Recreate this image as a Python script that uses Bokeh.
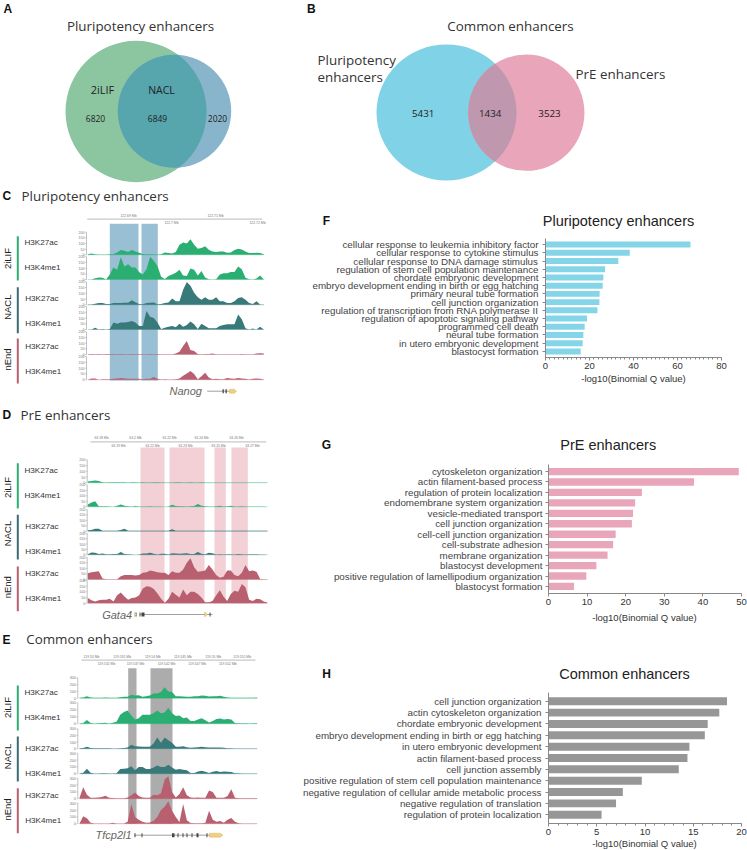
import numpy as np
from bokeh.plotting import figure
from bokeh.layouts import row, column
from bokeh.models import Range1d, FactorRange, FixedTicker
from bokeh.core.properties import value
from bokeh.embed import file_html
from bokeh.resources import INLINE

# ---------- data ----------
F_terms = ["cellular response to leukemia inhibitory factor","cellular response to cytokine stimulus","cellular response to DNA damage stimulus","regulation of stem cell population maintenance","chordate embryonic development","embryo development ending in birth or egg hatching","primary neural tube formation","cell junction organization","regulation of transcription from RNA polymerase II","regulation of apoptotic signaling pathway","programmed cell death","neural tube formation","in utero embryonic development","blastocyst formation"]
F_vals = [65.9,38.3,33.1,27.1,26.3,26.0,24.6,24.5,23.6,18.9,17.8,17.2,16.9,16.0]
G_terms = ["cytoskeleton organization","actin filament-based process","regulation of protein localization","endomembrane system organization","vesicle-mediated transport","cell junction organization","cell-cell junction organization","cell-substrate adhesion","membrane organization","blastocyst development","positive regulation of lamellipodium organization","blastocyst formation"]
G_vals = [49.3,37.7,24.2,22.45,21.9,21.6,17.4,16.75,15.3,12.4,9.8,6.6]
H_terms = ["cell junction organization","actin cytoskeleton organization","chordate embryonic development","embryo development ending in birth or egg hatching","in utero embryonic development","actin filament-based process","cell junction assembly","positive regulation of stem cell population maintenance","negative regulation of cellular amide metabolic process","negative regulation of translation","regulation of protein localization"]
H_vals = [18.5,17.7,16.5,16.2,14.6,14.4,13.5,9.67,7.7,7.0,5.5]

venn_A = ["6820","6849","2020"]
venn_B = ["5431","1434","3523"]
marks = ["H3K27ac","H3K4me1"]
states = ["2iLIF","NACL","nEnd"]

C_2iLIF_K27ac = [5,12,5,3,3,3,5,8,20,42,36,24,42,30,18,8,5,5,5,3,5,20,15,12,25,90,108,100,138,90,54,60,75,45,30,25,30,30,18,20,42,54,48,30,15,15,18,15,5]
C_2iLIF_K4me1 = [0,0,12,18,15,0,45,105,85,195,115,135,105,105,66,45,90,200,165,120,25,5,30,45,60,85,36,30,96,85,36,75,18,3,0,3,45,54,54,66,66,114,90,15,3,0,8,36,0]
C_NACL_K27ac = [3,3,10,15,15,8,8,15,15,15,18,18,40,22,8,5,15,18,20,5,8,15,20,55,30,30,130,198,165,105,66,45,66,45,45,66,30,30,15,15,30,60,66,45,15,8,30,3,3]
C_NACL_K4me1 = [0,0,15,0,5,0,5,60,50,60,60,66,75,60,30,30,160,110,100,60,5,15,25,30,20,50,25,40,70,45,5,50,30,10,10,10,30,40,45,45,45,130,90,10,0,8,0,25,0]
C_nEnd_K27ac = [3,5,3,5,3,5,5,5,3,5,3,3,5,3,5,3,3,5,3,5,3,3,3,3,8,25,75,120,40,30,5,3,5,5,8,3,3,3,3,3,3,3,5,3,3,3,8,10,8]
C_nEnd_K4me1 = [0,12,12,0,5,5,5,10,12,15,12,10,10,10,8,5,8,10,25,8,3,5,3,3,5,12,35,55,75,50,5,30,60,20,5,8,5,5,15,12,10,15,12,10,3,10,12,8,3]

D_2iLIF_K27ac = [12,15,20,15,4,3,4,4,4,5,4,3,5,4,3,4,3,3,4,4,3,3,3,3,5,4,3,3,4,3,3,4,3,3,3,3,3,3,3,3,3,3,3,3,3,3,3,3,3,3]
D_2iLIF_K4me1 = [20,40,50,5,5,5,3,0,10,22,10,5,3,8,3,3,3,5,3,3,3,0,3,18,8,5,5,3,5,8,25,10,5,3,3,5,10,3,5,10,3,3,5,3,3,3,3,3,3,0]
D_NACL_K27ac = [8,10,22,22,5,3,3,5,5,10,22,5,3,3,3,3,5,5,5,3,3,3,3,18,5,3,3,3,3,3,5,3,3,3,3,5,3,3,3,3,3,3,3,3,3,3,3,3,3,3]
D_NACL_K4me1 = [5,22,20,8,12,5,5,8,8,25,8,5,3,0,3,12,12,18,10,3,10,10,3,15,12,10,12,15,8,8,25,10,5,18,15,3,5,3,5,5,3,8,5,3,5,5,5,3,3,0]
D_nEnd_K27ac = [55,65,70,75,8,3,3,3,3,30,40,40,40,35,40,60,65,80,75,65,60,60,40,75,60,60,90,150,190,110,70,75,80,130,90,40,15,25,80,80,40,30,60,130,75,80,70,5,3,3]
D_nEnd_K4me1 = [45,25,15,25,30,30,40,15,70,95,60,30,45,50,70,130,150,145,125,85,40,5,40,100,75,50,120,70,100,100,80,50,8,8,20,70,115,60,20,80,110,100,170,140,30,20,40,35,15,5]

E_2iLIF_K27ac = [8,12,30,10,8,8,8,12,8,5,5,15,20,20,50,40,45,20,30,40,70,70,90,160,100,90,30,30,25,20,20,30,30,40,35,25,30,30,35,20,10,8,5,8,8,5,8,8,10]
E_2iLIF_K4me1 = [3,10,55,10,3,8,10,15,5,15,30,130,170,190,120,60,80,130,130,130,150,190,150,160,230,150,110,120,80,90,40,40,60,80,50,20,40,70,75,60,70,60,10,8,8,8,5,8,8]
E_NACL_K27ac = [8,12,30,12,8,8,8,8,8,5,5,10,12,20,60,40,35,30,30,30,80,170,90,170,130,90,30,30,40,25,15,20,25,30,25,20,20,20,20,15,10,8,5,5,5,5,5,3,3]
E_NACL_K4me1 = [5,15,75,15,3,5,8,8,5,5,8,70,75,80,110,50,100,100,70,70,90,120,100,100,130,90,60,70,60,50,10,10,35,45,30,10,30,40,25,35,30,25,8,8,5,5,5,3,3]
E_nEnd_K27ac = [15,170,60,15,15,20,25,45,15,10,8,8,8,20,50,90,40,20,15,15,60,50,80,280,330,100,20,70,170,50,20,15,20,15,15,120,100,15,15,15,40,140,15,8,8,8,8,8,8]
E_nEnd_K4me1 = [5,110,80,15,5,5,5,5,5,15,3,3,3,30,290,100,60,30,15,20,40,100,200,250,330,190,100,25,290,50,10,8,8,8,15,190,60,30,40,15,60,85,30,8,5,5,5,3,3]

C_scale_top = ["122.69 Mb","122.71 Mb"]
C_scale_bot = ["122.7 Mb","122.72 Mb"]
D_scale_top = ["63.18 Mb","63.2 Mb","63.22 Mb","63.24 Mb","63.26 Mb"]
D_scale_bot = ["63.19 Mb","63.21 Mb","63.23 Mb","63.25 Mb","63.27 Mb"]
E_scale_top = ["119.53 Mb","119.535 Mb","119.54 Mb","119.545 Mb","119.55 Mb","119.555 Mb"]
E_scale_bot = ["119.532 Mb","119.537 Mb","119.542 Mb","119.547 Mb","119.552 Mb"]

# ---------- style ----------
GREEN, TEAL, PINK = "#2BAE72", "#38797A", "#B8606F"
TCOL = "#3C3C3C"
VENN = "Open Sans"
SANS = "Liberation Sans"
TS = 13.4
Y_TOP, Y_BOT = 0, 850

def canvas(x0, x1, y0, y1):
    p = figure(width=x1 - x0, height=y1 - y0, x_range=Range1d(x0, x1), y_range=Range1d(y1, y0),
               output_backend="svg", toolbar_location=None, min_border=0, outline_line_color=None, frame_align=False)
    p.axis.visible = False
    p.grid.visible = False
    return p

def txt(p, x, y, s, size, font=SANS, color=TCOL, align="left", style="normal", angle=0):
    p.text(x=[x], y=[y], text=[s], text_font=value(font), text_font_size=f"{size}px", text_color=color,
           text_align=align, text_baseline="middle", text_font_style=style, angle=angle)

def venn(p, a, b, col_a, col_b, col_ab):
    """Two solid ellipses (cx, cy, w, h) and their common lens, in exact colours."""
    p.ellipse(x=[a[0]], y=[a[1]], width=[a[2]], height=[a[3]], fill_color=col_a, line_color=None)
    p.ellipse(x=[b[0]], y=[b[1]], width=[b[2]], height=[b[3]], fill_color=col_b, line_color=None)
    t = np.linspace(0, 2 * np.pi, 1440, endpoint=False)
    def ring(e):
        return e[0] + e[2] / 2 * np.cos(t), e[1] + e[3] / 2 * np.sin(t)
    def inside(x, y, e):
        return ((x - e[0]) / (e[2] / 2)) ** 2 + ((y - e[1]) / (e[3] / 2)) ** 2 <= 1
    ax, ay = ring(a)
    bx, by = ring(b)
    ka, kb = inside(ax, ay, b), inside(bx, by, a)
    lx = np.r_[ax[ka], bx[kb]]
    ly = np.r_[ay[ka], by[kb]]
    order = np.argsort(np.arctan2(ly - ly.mean(), lx - lx.mean()))
    p.patch(lx[order], ly[order], fill_color=col_ab, line_color=None)

left = canvas(0, 290, Y_TOP, Y_BOT)

# ---- panel A ----
txt(left, 3, 8, "A", 12, style="bold", color="#111")
txt(left, 140, 25, "Pluripotency enhancers", TS, VENN, "#333", "center")
venn(left, (135.5, 111, 141, 141.5), (174, 110.7, 113.4, 113), "#8CC6A0", "#88B5CB", "#57A5AD")
txt(left, 102, 89, "2iLIF", 11, VENN, "#222", "center")
txt(left, 161, 89, "NACL", 10.5, VENN, "#222", "center")
for x, s in zip([95, 157, 217], venn_A):
    txt(left, x, 118, s, 8.5, VENN, "#222", "center")

# ---- tracks ----
def panel(key, tracks, x0, x1, axis_x, bases, tops, vmax, ticks, rects, rect_col, ys_lab, x_lab, state_y, bars,
          scale_y, scale_x0, scale_x1, s_top, s_top_x, s_top_y, s_bot, s_bot_x, s_bot_y):
    for a, b in rects:
        left.quad(left=[a], right=[b], top=[ys_lab["top"]], bottom=[ys_lab["bottom"]], fill_color=rect_col, line_color=None)
    left.line([scale_x0, scale_x1], [scale_y, scale_y], line_color="#C8C8C8", line_width=1.2)
    for xs, labels, yy in ((s_top_x, s_top, s_top_y), (s_bot_x, s_bot, s_bot_y)):
        left.text(x=xs, y=[yy]*len(xs), text=labels, text_font=value(SANS), text_font_size="3.4px", text_color="#777",
                  text_align="center", text_baseline="middle")
    colors = [GREEN, GREEN, TEAL, TEAL, PINK, PINK]
    for i, vals in enumerate(tracks):
        name = f"{key}{i}"
        b, t = bases[i], tops[i]
        per_px = vmax / (b - t)
        left.extra_y_ranges[name] = Range1d((b - Y_BOT) * per_px, (b - Y_TOP) * per_px)
        xs = np.linspace(x0, x1, len(vals))
        left.line([x0, x1], [0, 0], y_range_name=name, line_color=colors[i], line_alpha=0.3, line_width=1)
        left.varea(x=xs, y1=np.zeros(len(vals)), y2=np.array(vals, float), y_range_name=name, fill_color=colors[i])
        left.line([axis_x, axis_x], [0, vmax], y_range_name=name, line_color="#999", line_width=0.6)
        left.segment(x0=[axis_x - 1.5]*len(ticks), x1=[axis_x]*len(ticks), y0=ticks, y1=ticks, y_range_name=name, line_color="#999", line_width=0.5)
        left.text(x=[axis_x - 2]*len(ticks), y=ticks, text=[str(v) for v in ticks], y_range_name=name, text_font=value(SANS),
                  text_font_size="3.6px", text_color="#777", text_align="right", text_baseline="middle")
    for i, yy in enumerate(ys_lab["rows"]):
        txt(left, x_lab[i // 2], yy, marks[i % 2], 8.1, SANS, "#333")
    for s, yy, c, (a, b) in zip(states, state_y, [GREEN, "#3D6B73", PINK], bars):
        txt(left, 6.5, yy, s, 9.5, SANS, "#222", "center", angle=np.pi/2)
        left.line([17.3, 17.3], [a, b], line_color=c, line_width=2)

panel("C", [C_2iLIF_K27ac, C_2iLIF_K4me1, C_NACL_K27ac, C_NACL_K4me1, C_nEnd_K27ac, C_nEnd_K4me1],
      87.3, 263.3, 86, [254.3, 279, 304.3, 329, 354, 379.3], [231.7, 256.3, 281.3, 306, 331.3, 356], 200, [0, 50, 100, 150, 200],
      [(109.3, 138), (141, 157.3)], "#98BFD3",
      {"top": 223.3, "bottom": 380, "rows": [242, 267, 298, 323, 345.7, 370.7]}, [24, 24.7, 24.7],
      [258, 306.7, 359], [(235.7, 280), (286.7, 332.7), (338, 383)],
      218.7, 86.7, 261.7, C_scale_top, [128, 215], 215, C_scale_bot, [171, 257], 222.5)

panel("D", [D_2iLIF_K27ac, D_2iLIF_K4me1, D_NACL_K27ac, D_NACL_K4me1, D_nEnd_K27ac, D_nEnd_K4me1],
      87.3, 267, 86.7, [482.3, 506.3, 530.7, 554.3, 579, 602.7], [459.3, 484.3, 509, 532.7, 556.7, 580], 200, [0, 50, 100, 150, 200],
      [(140, 164), (169, 204), (214, 225.3), (231, 247.3)], "#F2D0D6",
      {"top": 447, "bottom": 602.7, "rows": [470, 495, 525.7, 551, 573, 598]}, [24, 24.7, 24.7],
      [487, 533, 586.7], [(462.7, 508), (514.3, 559), (566, 610.7)],
      441.3, 90, 265.7, D_scale_top, [101, 135, 169, 201, 236], 437.3, D_scale_bot, [118, 152, 185, 218, 252], 445)

panel("E", [E_2iLIF_K27ac, E_2iLIF_K4me1, E_NACL_K27ac, E_NACL_K4me1, E_nEnd_K27ac, E_nEnd_K4me1],
      79, 256.7, 77.3, [697.7, 723.3, 748.3, 773.3, 798.3, 823.3], [677.3, 702.3, 728.3, 752.7, 777.7, 802.7], 300, [0, 100, 200, 300],
      [(127.7, 136), (150, 172)], "#ADACAC",
      {"top": 667.7, "bottom": 823.3, "rows": [691.7, 716.7, 748.3, 772.7, 795, 820]}, [24, 24.7, 24.7],
      [707, 756, 809], [(685, 730), (736, 781), (787.7, 832.7)],
      659.7, 81, 255, E_scale_top, [91, 121.7, 152.3, 182.3, 212.7, 241.7], 656, E_scale_bot, [106, 135, 166, 196.7, 227.3], 663)

txt(left, 2, 195, "C", 12, style="bold", color="#111")
txt(left, 21, 195, "Pluripotency enhancers", TS, VENN, "#333")
txt(left, 2, 414.3, "D", 12, style="bold", color="#111")
txt(left, 20, 414, "PrE enhancers", TS, VENN, "#333")
txt(left, 2, 639.3, "E", 12, style="bold", color="#111")
txt(left, 25.7, 638.5, "Common enhancers", TS, VENN, "#333")

def gene(name, tx, tx_end, y, lx0, lx1, exons, utr):
    txt(left, tx, y, name, 11, "Liberation Sans", "#666", "left", "italic")
    left.line([lx0, lx1], [y, y], line_color="#888", line_width=0.8)
    for a, b in exons:
        left.quad(left=[a], right=[b], top=[y - 2], bottom=[y + 2], fill_color="#444", line_color=None)
    for a, b in utr:
        left.patch([a, b - 2, b, b - 2, a], [y - 2, y - 2, y, y + 2, y + 2], fill_color="#F2CF78", line_color="#B9A060", line_width=0.3)

gene("Nanog", 169, 201, 390.7, 206.7, 230, [(222, 223.3), (225, 226.3)], [(229, 236)])
gene("Gata4", 101.7, 131, 614, 140, 212, [(135, 136), (139, 140), (141, 144), (209, 210)], [(134, 136), (204, 207)])
gene("Tfcp2l1", 95, 130, 834.7, 134, 222, [(134, 135), (141, 142), (171.5, 174), (177, 178), (182, 183), (186, 187), (191, 192), (196, 198), (206, 207)], [(209, 222)])

# ---- right column ----
FL, FR = 290, 747
def bars(terms, vals, color, fig_top, fig_bot, frame_top, frame_bot, frame_l, frame_r, xmax, xticks, minor, pad, bar_h, standoff):
    factors = terms[::-1]
    p = figure(width=FR - FL, height=fig_bot - fig_top, x_range=Range1d(0, xmax), y_range=FactorRange(factors=factors, range_padding=pad),
               output_backend="svg", toolbar_location=None, outline_line_color=None, frame_align=False,
               min_border_left=round(frame_l - FL), min_border_right=round(FR - frame_r),
               min_border_top=round(frame_top - fig_top), min_border_bottom=round(fig_bot - frame_bot))
    p.grid.visible = False
    p.hbar(y=terms, right=vals, left=0, height=bar_h, fill_color=color, line_color=None)
    ax = p.xaxis[0]
    ax.ticker = FixedTicker(ticks=xticks, minor_ticks=minor)
    for a in (p.xaxis[0], p.yaxis[0]):
        a.axis_line_color = "#888"
        a.major_tick_line_color = "#888"
        a.major_tick_out = 3
        a.major_tick_in = 0
        a.major_label_text_font = SANS
        a.major_label_text_color = "#333"
        a.major_label_text_font_size = "9.5px"
    ax.minor_tick_line_color = "#888"
    ax.minor_tick_out = 2
    ax.minor_tick_in = 0
    ax.major_label_standoff = 2
    p.yaxis[0].major_label_standoff = standoff
    p.yaxis[0].major_label_text_color = "#444"
    p.yaxis[0].major_label_text_font_size = "9.8px"
    return p

AXLAB = "-log10(Binomial Q value)"
# header band: panel B and the heading of F
top = canvas(FL, FR, 0, 236)
txt(top, 306.5, 8, "B", 12, style="bold", color="#111")
txt(top, 510, 25, "Common enhancers", TS, VENN, "#333", "center")
venn(top, (446, 112, 140, 136), (525.8, 112.2, 116.3, 116.3), "#80D2E6", "#E9A5B9", "#BF98AF")
txt(top, 317, 59, "Pluripotency", TS, VENN, "#333")
txt(top, 317, 76.5, "enhancers", TS, VENN, "#333")
txt(top, 575, 73, "PrE enhancers", TS, VENN, "#333")
for x, s in zip([422.7, 489.7, 549], venn_B):
    txt(top, x, 113, s, 9.8, VENN, "#222", "center")
txt(top, 326, 220, "F", 12, SANS, "#111", "center", "bold")
txt(top, 618, 220.7, "Pluripotency enhancers", 14.5, SANS, "#222", "center")

pF = bars(F_terms, F_vals, "#85D5E8", 236, 372, 238, 356.7, 544.7, 721, 80, [0,20,40,60,80], [v*2 for v in range(41)], 0.034, 0.72, 4)

midFG = canvas(FL, FR, 372, 460)
txt(midFG, 633, 378, AXLAB, 9.5, SANS, "#333", "center")
txt(midFG, 326, 444, "G", 12, SANS, "#111", "center", "bold")
txt(midFG, 607.7, 444, "PrE enhancers", 14.5, SANS, "#222", "center")

pG = bars(G_terms, G_vals, "#E9A5BA", 460, 610, 464.3, 593.3, 547.7, 740.7, 50, [0,10,20,30,40,50], [], 0.029, 0.70, 3)

midGH = canvas(FL, FR, 610, 688)
txt(midGH, 644, 616.7, AXLAB, 9.5, SANS, "#333", "center")
txt(midGH, 326, 673, "H", 12, SANS, "#111", "center", "bold")
txt(midGH, 624, 673.7, "Common enhancers", 14.5, SANS, "#222", "center")

pH = bars(H_terms, H_vals, "#979797", 688, 837, 692.3, 823.3, 547.7, 740.7, 20, [0,5,10,15,20], list(range(21)), 0.05, 0.70, 4)

foot = canvas(FL, FR, 837, 850)
txt(foot, 644, 843, AXLAB, 9.5, SANS, "#333", "center")

page = row(left, column(top, pF, midFG, pG, midGH, pH, foot))
open("out.html", "w").write(file_html(page, INLINE))
